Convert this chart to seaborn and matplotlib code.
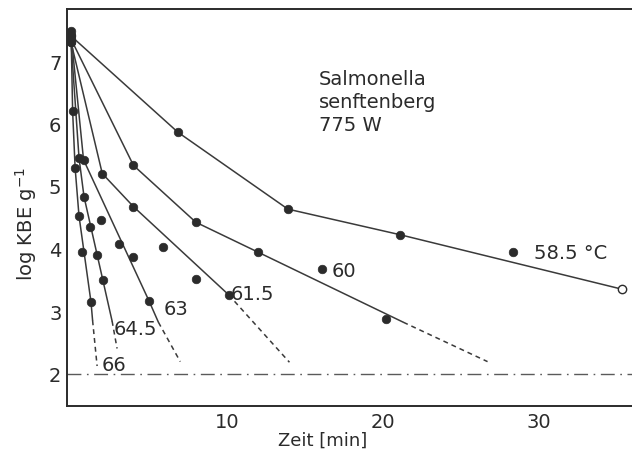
import matplotlib
matplotlib.use("Agg")
import matplotlib.pyplot as plt
import seaborn as sns
import pandas as pd

# ---------------- data ----------------
temps = ["58.5", "60", "61.5", "63", "64.5", "66"]

# solid fitted polylines (time in min, log KBE/g)
line_t_585 = [0, 6.85, 13.9, 21.1, 35.3]
line_y_585 = [7.40, 5.86, 4.63, 4.22, 3.35]
line_t_60 = [0, 4.0, 8.0, 12.0, 21.3]
line_y_60 = [7.35, 5.33, 4.42, 3.94, 2.82]
line_t_615 = [0, 2.0, 4.0, 10.1]
line_y_615 = [7.30, 5.20, 4.67, 3.26]
line_t_63 = [0, 0.8, 5.0, 5.6]
line_y_63 = [7.42, 5.42, 3.16, 2.82]
line_t_645 = [0, 0.51, 0.83, 2.63]
line_y_645 = [7.30, 5.45, 4.83, 2.84]
line_t_66 = [0, 0.1, 0.26, 0.51, 1.28, 1.38]
line_y_66 = [7.48, 6.20, 5.29, 4.52, 3.14, 2.85]

# dashed extrapolations
dash_t_60 = [21.3, 26.7]
dash_y_60 = [2.82, 2.19]
dash_t_615 = [10.1, 14.0]
dash_y_615 = [3.26, 2.18]
dash_t_63 = [5.6, 7.0]
dash_y_63 = [2.82, 2.19]
dash_t_645 = [2.63, 2.95]
dash_y_645 = [2.84, 2.40]
dash_t_66 = [1.38, 1.67]
dash_y_66 = [2.85, 2.12]

# measured points
pt_t_585 = [0, 6.85, 13.9, 21.1, 28.3]
pt_y_585 = [7.40, 5.86, 4.63, 4.22, 3.94]
open_t_585 = [35.3]
open_y_585 = [3.35]
pt_t_60 = [0, 4.0, 8.0, 12.0, 16.1, 20.2]
pt_y_60 = [7.35, 5.33, 4.42, 3.94, 3.68, 2.88]
pt_t_615 = [0, 2.0, 4.0, 5.9, 8.0, 10.1]
pt_y_615 = [7.30, 5.20, 4.67, 4.03, 3.51, 3.26]
pt_t_63 = [0, 0.8, 1.95, 3.05, 4.0, 5.0]
pt_y_63 = [7.42, 5.42, 4.46, 4.08, 3.86, 3.16]
pt_t_645 = [0, 0.51, 0.83, 1.22, 1.67, 2.05]
pt_y_645 = [7.30, 5.45, 4.83, 4.34, 3.90, 3.49]
pt_t_66 = [0, 0.1, 0.26, 0.51, 0.71, 1.28]
pt_y_66 = [7.48, 6.20, 5.29, 4.52, 3.94, 3.14]

detection_limit = 2.0

label_text = ["58.5 °C", "60", "61.5", "63", "64.5", "66"]
label_t = [32.0, 17.5, 11.6, 6.7, 4.1, 2.75]
label_y = [3.94, 3.65, 3.28, 3.04, 2.72, 2.14]

title_lines = "Salmonella\nsenftenberg\n775 W"

xticks = [0, 5, 10, 15, 20, 25, 30, 35]
xticklabels = ["", "", "10", "", "20", "", "30", ""]
yticks = [2, 3, 4, 5, 6, 7]

# ---------------- build frames ----------------
solid = pd.concat([
    pd.DataFrame({"t": line_t_585, "y": line_y_585, "T": "58.5"}),
    pd.DataFrame({"t": line_t_60, "y": line_y_60, "T": "60"}),
    pd.DataFrame({"t": line_t_615, "y": line_y_615, "T": "61.5"}),
    pd.DataFrame({"t": line_t_63, "y": line_y_63, "T": "63"}),
    pd.DataFrame({"t": line_t_645, "y": line_y_645, "T": "64.5"}),
    pd.DataFrame({"t": line_t_66, "y": line_y_66, "T": "66"}),
], ignore_index=True)
dashed = pd.concat([
    pd.DataFrame({"t": dash_t_60, "y": dash_y_60, "T": "60"}),
    pd.DataFrame({"t": dash_t_615, "y": dash_y_615, "T": "61.5"}),
    pd.DataFrame({"t": dash_t_63, "y": dash_y_63, "T": "63"}),
    pd.DataFrame({"t": dash_t_645, "y": dash_y_645, "T": "64.5"}),
    pd.DataFrame({"t": dash_t_66, "y": dash_y_66, "T": "66"}),
], ignore_index=True)
points = pd.concat([
    pd.DataFrame({"t": pt_t_585, "y": pt_y_585}),
    pd.DataFrame({"t": pt_t_60, "y": pt_y_60}),
    pd.DataFrame({"t": pt_t_615, "y": pt_y_615}),
    pd.DataFrame({"t": pt_t_63, "y": pt_y_63}),
    pd.DataFrame({"t": pt_t_645, "y": pt_y_645}),
    pd.DataFrame({"t": pt_t_66, "y": pt_y_66}),
], ignore_index=True)
open_pts = pd.DataFrame({"t": open_t_585, "y": open_y_585})

# ---------------- plot ----------------
sns.set_theme(style="white")
plt.rcParams["font.family"] = ["DejaVu Sans"]

ink = "#2b2b2b"
fig = plt.figure(figsize=(6.32, 4.52), dpi=100)
ax = fig.add_axes([67 / 632, 1 - 407 / 452, 1 - 67 / 632, (407 - 10) / 452])

pal = {k: "#3a3a3a" for k in temps}
sns.lineplot(data=solid, x="t", y="y", hue="T", units="T", estimator=None,
             sort=False, palette=pal, linewidth=1.1, legend=False, ax=ax)
sns.lineplot(data=dashed, x="t", y="y", hue="T", units="T", estimator=None,
             sort=False, palette=pal, linewidth=1.1, legend=False, ax=ax,
             dashes=False)
for ln in ax.lines[-len(dashed["T"].unique()):]:
    ln.set_dashes((3.2, 2.6))

sns.scatterplot(data=points, x="t", y="y", color=ink, s=38, edgecolor=ink,
                linewidth=0.5, legend=False, ax=ax, zorder=4)
sns.scatterplot(data=open_pts, x="t", y="y", facecolor="white", s=36,
                edgecolor=ink, linewidth=1.0, legend=False, ax=ax, zorder=4)

ax.axhline(detection_limit, xmin=0.0, xmax=1.0, color="#5a5a5a", linewidth=1.0,
           dashes=(10, 4, 1.2, 4))

for txt, tx, ty in zip(label_text, label_t, label_y):
    ax.text(tx, ty, txt, ha="center", va="center", fontsize=14, color=ink)

ax.text(15.9, 6.87, title_lines, ha="left", va="top", fontsize=14,
        color=ink, linespacing=1.25)

ax.set_xlim(-0.26, 35.96)
ax.set_ylim(1.48, 7.832)
ax.set_xticks(xticks)
ax.set_xticklabels(xticklabels)
ax.set_yticks(yticks)
ax.tick_params(direction="in", length=5, width=1.1, color=ink,
               labelsize=14, labelcolor=ink, pad=4)
ax.set_xlabel("Zeit [min]", fontsize=13, color=ink, labelpad=0)
ax.xaxis.set_label_coords(0.453, -0.062)
ax.set_ylabel("log KBE g$^{-1}$", fontsize=14, color=ink)
ax.yaxis.set_label_coords(-0.05, 0.46)

for side in ["left", "bottom", "top"]:
    ax.spines[side].set_visible(True)
    ax.spines[side].set_color(ink)
    ax.spines[side].set_linewidth(1.4)
ax.spines["right"].set_visible(False)

fig.savefig("out.png", dpi=100, facecolor="white")
